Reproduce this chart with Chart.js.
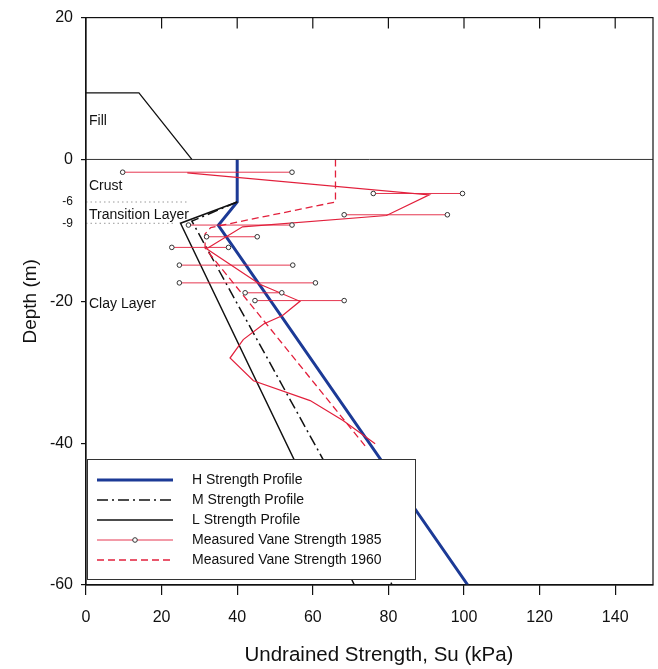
<!DOCTYPE html>
<html>
<head>
<meta charset="utf-8">
<script src="https://cdn.jsdelivr.net/npm/chart.js@4.4.0/dist/chart.umd.min.js"></script>
<style>
  html, body { margin: 0; padding: 0; background: #fff; }
  #wrap { width: 658px; height: 669px; }
</style>
</head>
<body>
<div id="wrap"><canvas id="profileChart" width="658" height="669"></canvas></div>
<script>
const FONT = "Arial, 'Liberation Sans', sans-serif";

// axis ticks
const xTickValues = [0, 20, 40, 60, 80, 100, 120, 140];
const yTickValues = [20, 0, -6, -9, -20, -40, -60];
const ySmallTicks = [-6, -9];
const xTitle = 'Undrained Strength, Su (kPa)';

// fill embankment outline
const fillX = [0, 14, 28];
const fillY = [9.4, 9.4, 0];

// layer boundaries
const layerLineDepths = [-6, -9];
const layerLineEnd = [27, 23];
const layerLabels = ['Fill', 'Crust', 'Transition Layer', 'Clay Layer'];
const layerLabelDepth = [5.4, -3.7, -7.8, -20.4];

// strength profiles
const hX = [40, 40, 35, 101];
const hY = [0, -6, -9.3, -60];
const mX = [40, 28, 81];
const mY = [-6, -8.7, -60];
const lX = [40, 25, 71];
const lY = [-6, -9, -60];

// measured vane strength 1985: mean line
const v85X = [26.8, 90.8, 79.5, 41.4, 31.9, 46, 56.6, 52, 47, 41.6, 38.1, 44.3, 59.3, 68, 76.5];
const v85Y = [-1.9, -5, -7.9, -9.5, -12.6, -17.6, -20, -22, -23.2, -25.4, -28, -31.2, -34, -36.8, -40.1];

// measured vane strength 1985: range bars
const barDepth = [-1.8, -4.8, -7.8, -9.25, -10.9, -12.4, -14.9, -17.4, -18.8, -19.9];
const barMin = [9.7, 76, 68.3, 27.1, 31.9, 22.7, 24.7, 24.7, 42.1, 44.7];
const barMax = [54.5, 99.6, 95.6, 54.5, 45.3, 37.7, 54.7, 60.7, 51.8, 68.3];

// measured vane strength 1960
const v60X = [66, 66, 33, 31.5, 31.5, 74];
const v60Y = [0, -6, -9.6, -10.5, -12.5, -40.5];

const legendLabels = [
    'H Strength Profile',
    'M Strength Profile',
    'L Strength Profile',
    'Measured Vane Strength 1985',
    'Measured Vane Strength 1960'
];

const BLUE = '#1c3a96';
const RED = '#e2203c';
const INK = '#111';

function toPoints(xs, ys) {
    return xs.map((x, i) => ({ x: x, y: ys[i] }));
}

function lineSet(xs, ys, color, width, dash) {
    return {
        data: toPoints(xs, ys),
        borderColor: color,
        borderWidth: width,
        borderDash: dash || [],
        pointRadius: 0,
        showLine: true,
        fill: false,
        tension: 0
    };
}

const datasets = [];
datasets.push(lineSet(fillX, fillY, INK, 1.3));
datasets.push(lineSet([0, 150], [0, 0], '#333', 1));
layerLineDepths.forEach((d, i) => {
    datasets.push(lineSet([0, layerLineEnd[i]], [d, d], '#9a9a9a', 1, [1.5, 3]));
});
barDepth.forEach((d, i) => {
    const ds = lineSet([barMin[i], barMax[i]], [d, d], RED, 0.9);
    ds.pointRadius = 2.3;
    ds.pointBackgroundColor = '#fff';
    ds.pointBorderColor = '#333';
    ds.pointBorderWidth = 1;
    datasets.push(ds);
});
datasets.push(lineSet(v85X, v85Y, RED, 1.2));
datasets.push(lineSet(v60X, v60Y, RED, 1.3, [7, 4]));
datasets.push(lineSet(lX, lY, INK, 1.5));
datasets.push(lineSet(mX, mY, INK, 1.5, [11, 4, 2, 4]));
datasets.push(lineSet(hX, hY, BLUE, 3));

// frame, inward top ticks, layer names, x title and legend box
const decorPlugin = {
    id: 'decor',
    afterDatasetsDraw(chart) {
        const ctx = chart.ctx;
        const area = chart.chartArea;
        const xs = chart.scales.x;
        const ys = chart.scales.y;
        ctx.save();

        ctx.strokeStyle = INK;
        ctx.lineWidth = 1.2;
        ctx.strokeRect(area.left, area.top, area.right - area.left, area.bottom - area.top);
        xTickValues.forEach(v => {
            if (v === 0) return;
            const px = xs.getPixelForValue(v);
            ctx.beginPath();
            ctx.moveTo(px, area.top);
            ctx.lineTo(px, area.top + 11);
            ctx.stroke();
        });

        ctx.fillStyle = INK;
        ctx.font = '14px ' + FONT;
        ctx.textBaseline = 'middle';
        ctx.textAlign = 'left';
        layerLabels.forEach((t, i) => {
            ctx.fillText(t, area.left + 3, ys.getPixelForValue(layerLabelDepth[i]));
        });

        // x axis title, sits a little right of the plot centre
        ctx.font = '20.5px ' + FONT;
        ctx.textAlign = 'center';
        ctx.fillText(xTitle, xs.getPixelForValue(77.5), 655);

        // legend
        const lx = 87, ly = 459, lw = 328, lh = 120;
        ctx.fillStyle = '#fff';
        ctx.fillRect(lx, ly, lw, lh);
        ctx.strokeStyle = '#333';
        ctx.lineWidth = 1;
        ctx.strokeRect(lx + 0.5, ly + 0.5, lw, lh);

        const rows = [480, 500, 520, 540, 560];
        const styles = [
            { c: BLUE, w: 3, d: [] },
            { c: INK, w: 1.5, d: [11, 4, 2, 4] },
            { c: INK, w: 1.5, d: [] },
            { c: RED, w: 0.9, d: [], marker: true },
            { c: RED, w: 1.3, d: [7, 4] }
        ];
        rows.forEach((ry, i) => {
            const s = styles[i];
            ctx.strokeStyle = s.c;
            ctx.lineWidth = s.w;
            ctx.setLineDash(s.d);
            ctx.beginPath();
            ctx.moveTo(97, ry);
            ctx.lineTo(173, ry);
            ctx.stroke();
            ctx.setLineDash([]);
            if (s.marker) {
                ctx.fillStyle = '#fff';
                ctx.strokeStyle = '#333';
                ctx.lineWidth = 1;
                ctx.beginPath();
                ctx.arc(135, ry, 2.3, 0, Math.PI * 2);
                ctx.fill();
                ctx.stroke();
            }
            ctx.fillStyle = INK;
            ctx.font = '14px ' + FONT;
            ctx.textAlign = 'left';
            ctx.textBaseline = 'middle';
            ctx.fillText(legendLabels[i], 192, ry);
        });
        ctx.restore();
    }
};

new Chart(document.getElementById('profileChart').getContext('2d'), {
    type: 'scatter',
    data: { datasets: datasets },
    plugins: [decorPlugin],
    options: {
        responsive: false,
        devicePixelRatio: 1,
        animation: false,
        layout: { padding: { top: 15, right: 5, left: 0, bottom: 0 } },
        plugins: {
            legend: { display: false },
            tooltip: { enabled: false }
        },
        scales: {
            x: {
                type: 'linear',
                min: 0,
                max: 150,
                afterBuildTicks: scale => { scale.ticks = xTickValues.map(v => ({ value: v })); },
                afterFit: scale => { scale.height = 84; },
                border: { display: true, color: INK, width: 1.2 },
                grid: { drawOnChartArea: false, drawTicks: true, tickLength: 10, color: INK, lineWidth: 1.2 },
                ticks: {
                    color: INK,
                    padding: 13,
                    maxRotation: 0,
                    font: { family: FONT, size: 16 }
                },
                title: { display: false }
            },
            y: {
                type: 'linear',
                min: -60,
                max: 20,
                afterBuildTicks: scale => { scale.ticks = yTickValues.map(v => ({ value: v })); },
                afterFit: scale => { scale.width = 86; },
                border: { display: true, color: INK, width: 1.2 },
                grid: {
                    drawOnChartArea: false,
                    drawTicks: true,
                    tickLength: 5,
                    lineWidth: 1.2,
                    color: c => (c.tick && ySmallTicks.includes(c.tick.value)) ? 'rgba(0,0,0,0)' : INK
                },
                ticks: {
                    color: INK,
                    padding: 8,
                    font: c => ({ family: FONT, size: (c.tick && ySmallTicks.includes(c.tick.value)) ? 12 : 16 })
                },
                title: {
                    display: true,
                    text: 'Depth (m)',
                    color: INK,
                    padding: { top: 19, bottom: 0 },
                    font: { family: FONT, size: 19 }
                }
            }
        }
    }
});
</script>
</body>
</html>
